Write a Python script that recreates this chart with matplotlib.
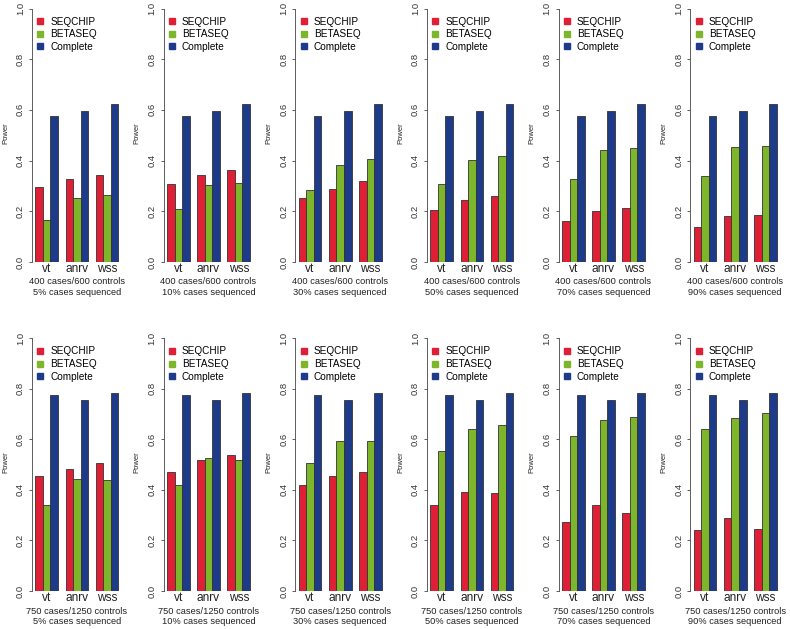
import matplotlib
matplotlib.use("Agg")
import matplotlib.pyplot as plt
from matplotlib.lines import Line2D
import numpy as np

plt.rcParams['font.family'] = ['Liberation Sans', 'DejaVu Sans']

methods = ["vt", "anrv", "wss"]
series = ["SEQCHIP", "BETASEQ", "Complete"]
pct_labels = ["5%", "10%", "30%", "50%", "70%", "90%"]
row_titles = ["400 cases/600 controls", "750 cases/1250 controls"]

# top row: 400 cases / 600 controls
seqchip_400 = [[0.296, 0.326, 0.342], [0.308, 0.342, 0.361], [0.254, 0.286, 0.321],
               [0.205, 0.246, 0.262], [0.162, 0.203, 0.214], [0.137, 0.183, 0.187]]
betaseq_400 = [[0.164, 0.253, 0.266], [0.208, 0.305, 0.313], [0.283, 0.382, 0.408],
               [0.308, 0.401, 0.420], [0.326, 0.442, 0.449], [0.339, 0.454, 0.458]]
complete_400 = [0.576, 0.596, 0.622]

# bottom row: 750 cases / 1250 controls
seqchip_750 = [[0.455, 0.483, 0.505], [0.470, 0.518, 0.540], [0.420, 0.456, 0.470],
               [0.342, 0.393, 0.387], [0.272, 0.340, 0.307], [0.240, 0.290, 0.245]]
betaseq_750 = [[0.340, 0.442, 0.440], [0.418, 0.525, 0.520], [0.508, 0.595, 0.592],
               [0.553, 0.640, 0.658], [0.612, 0.678, 0.688], [0.640, 0.685, 0.703]]
complete_750 = [0.775, 0.757, 0.785]

colors = ["#DF1F35", "#7DB52B", "#1E3B8A"]
edge = "#333333"

W, H = 790, 629
fig = plt.figure(figsize=(W / 100, H / 100), dpi=100)

rows = [
    (seqchip_400, betaseq_400, complete_400, 262.0, 253.5),
    (seqchip_750, betaseq_750, complete_750, 591.0, 252.7),
]
unit_x = 7.55
plot_w = 11.88 * unit_x

for r, (seq, beta, comp, y0, unit) in enumerate(rows):
    ax_h = 1.04 * unit
    for i in range(6):
        left_px = 32.0 + i * W / 6
        ax = fig.add_axes([left_px / W, 1 - y0 / H, plot_w / W, ax_h / H])
        vals = [seq[i], beta[i], comp]
        for k in range(3):
            xs = [1 + 4 * g + k + 0.5 for g in range(3)]
            ax.bar(xs, vals[k], width=1.0, color=colors[k], edgecolor=edge,
                   linewidth=0.6, label=series[k])
        ax.set_xlim(0.56, 12.44)
        ax.set_ylim(0, 1.04)
        for s in ["top", "right", "bottom"]:
            ax.spines[s].set_visible(False)
        ax.spines["left"].set_bounds(0, 1)
        ax.spines["left"].set_linewidth(0.6)
        ax.spines["left"].set_color("#444444")
        ax.set_yticks([0, 0.2, 0.4, 0.6, 0.8, 1.0])
        ax.set_yticklabels(["0.0", "0.2", "0.4", "0.6", "0.8", "1.0"],
                           rotation=90, va="center", fontsize=6.8, color="#333333")
        ax.tick_params(axis="y", length=2.5, width=0.6, pad=2.5, color="#444444")
        ax.set_xticks([2.5, 6.5, 10.5])
        ax.set_xticklabels(methods, fontsize=8.6, color="#222222")
        ax.tick_params(axis="x", length=0, pad=0.5)
        ax.set_ylabel("Power", fontsize=5.5, color="#222222")
        ax.yaxis.set_label_coords(-23.0 / plot_w, 0.51 / 1.04)
        ax.set_xlabel(row_titles[r] + "\n" + pct_labels[i] + " cases sequenced",
                      fontsize=6.7, color="#222222", linespacing=1.28)
        ax.xaxis.set_label_coords(0.5, -15.5 / ax_h)
        ax.xaxis.label.set_va("top")
        handles = [Line2D([], [], marker="s", linestyle="none", markersize=4.3,
                          color=c) for c in colors]
        ax.legend(handles, series, loc="upper left", bbox_to_anchor=(3.3 / plot_w, 0.9305),
                  frameon=False, fontsize=7.2, handlelength=1.0, handletextpad=0.5,
                  labelspacing=0.26, borderpad=0, borderaxespad=0)

fig.savefig("out.png", dpi=100)
